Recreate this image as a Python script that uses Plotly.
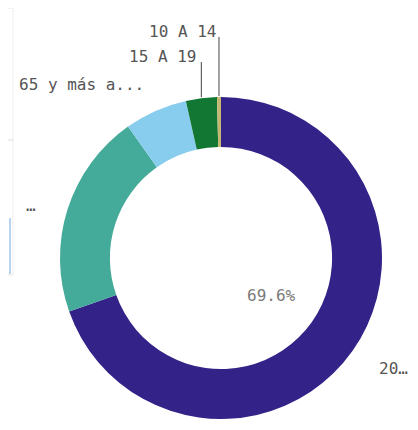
import math
import plotly.graph_objects as go

# slices, clockwise from 12 o'clock
labels = ["20…", "…", "65 y más a...", "15 A 19", "10 A 14"]
shares = [69.6, 20.6, 6.3, 3.1, 0.4]
colors = ["#332288", "#44aa99", "#88ccee", "#117733", "#c4b873"]

# the page body has an 8px margin; keep the figure inside the window so no scrollbar appears
OFF = 8
W, H = 418 - 2 * OFF, 430 - 2 * OFF
cx, cy, R = 221, 258, 161  # donut centre and outer radius, in page pixels


def px(x):
    return (x - OFF) / W


def py(y):
    return 1 - (y - OFF) / H


fig = go.Figure(go.Pie(
    labels=labels,
    values=shares,
    hole=0.69,
    sort=False,
    direction="clockwise",
    rotation=0,
    marker=dict(colors=colors, line=dict(width=0)),
    textinfo="none",
    hoverinfo="label+percent",
    domain=dict(x=[px(cx - R), px(cx + R)], y=[py(cy + R), py(cy - R)]),
    showlegend=False,
))

font = dict(family="DejaVu Sans Mono", size=16, color="#555555")

# leader lines for the small slices, placed at the middle angle of each slice
total = sum(shares)
start = 0.0
mids = {}
for lab, v in zip(labels, shares):
    mids[lab] = (start + v / 2) / total * 2 * math.pi
    start += v

leader_top = {"15 A 19": 62, "10 A 14": 37}
shapes = []
for lab, ytop in leader_top.items():
    a = mids[lab]
    x0 = cx + R * math.sin(a)
    y0 = cy - R * math.cos(a)
    shapes.append(dict(type="line", xref="paper", yref="paper",
                       x0=px(x0), y0=py(y0 - 1), x1=px(x0), y1=py(ytop),
                       line=dict(color="#444444", width=1)))

# faint remains of the neighbouring panel on the left
for x0, y0, x1, y1, c in [(8, 8, 13, 8, "#e3e3e3"), (13, 8, 13, 140, "#eeeeee"),
                          (8, 140, 13, 140, "#dddddd"), (13, 140, 13, 275, "#eeeeee"),
                          (8, 275, 13, 275, "#e6e6e6"), (10, 218, 10, 274, "#b9d4ee")]:
    shapes.append(dict(type="line", xref="paper", yref="paper",
                       x0=px(x0), y0=py(y0), x1=px(x1), y1=py(y1),
                       line=dict(color=c, width=2 if c == "#b9d4ee" else 1)))

annotations = [
    dict(text="65 y más a...", x=px(146), y=py(84), xanchor="right", yanchor="middle"),
    dict(text="15 A 19", x=px(198), y=py(57), xanchor="right", yanchor="middle"),
    dict(text="10 A 14", x=px(218), y=py(31), xanchor="right", yanchor="middle"),
    dict(text="…", x=px(24), y=py(205), xanchor="left", yanchor="middle"),
    dict(text="20…", x=px(377), y=py(368), xanchor="left", yanchor="middle"),
    dict(text=f"{shares[0]}%", x=px(271), y=py(295), xanchor="center", yanchor="middle",
         font=dict(family="DejaVu Sans Mono", size=16, color="#7a7a7a")),
]
for a in annotations:
    a.update(xref="paper", yref="paper", showarrow=False)
    a.setdefault("font", font)

fig.update_layout(
    width=W, height=H,
    margin=dict(l=0, r=0, t=0, b=0),
    paper_bgcolor="white",
    plot_bgcolor="white",
    shapes=shapes,
    annotations=annotations,
)

fig.write_html("out.html")
